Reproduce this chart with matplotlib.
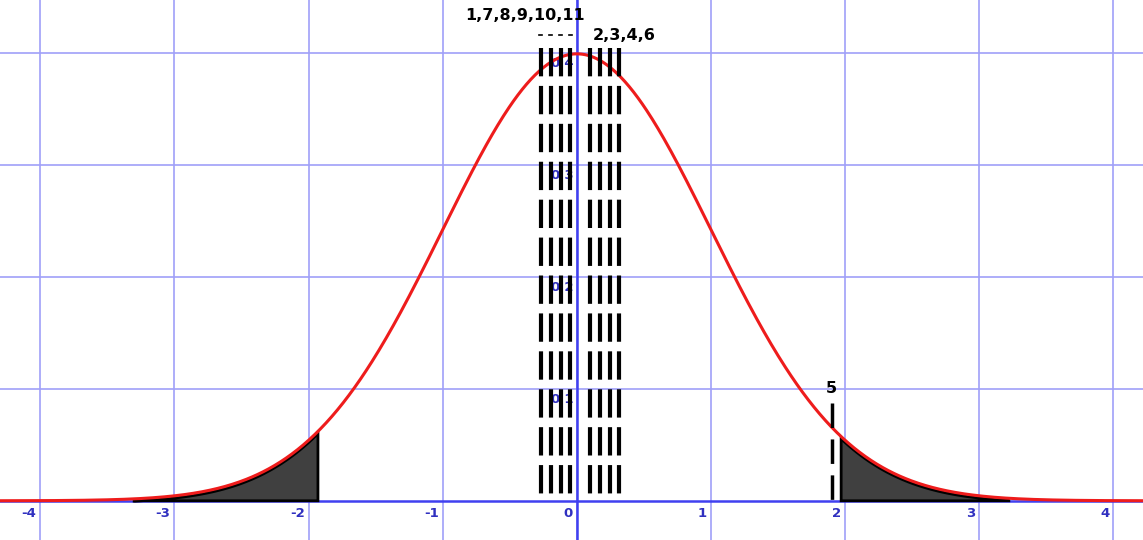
import numpy as np
import matplotlib.pyplot as plt

# positions of the dashed vertical markers
left_group = [-0.27, -0.195, -0.12, -0.05]
right_group = [0.097, 0.172, 0.246, 0.313]
line_tops = 0.404
marker5_x = 1.90
marker5_top = 0.087

left_tail = (-3.3, -1.93)
right_tail = (1.97, 3.22)

xticks = [-4, -3, -2, -1, 0, 1, 2, 3, 4]
yticks = [0.1, 0.2, 0.3, 0.4]

grid_col = '#a0a0f8'
axis_col = '#4040f0'
label_col = '#3030c0'


def pdf(x):
    return np.exp(-x**2 / 2) / np.sqrt(2 * np.pi)


fig = plt.figure(figsize=(11.43, 5.40), dpi=100)
ax = fig.add_axes([0, 0, 1, 1])
ax.set_xlim(-4.3, 4.22)
ax.set_ylim(-0.035, 0.447)
ax.axis('off')

# grid
for xv in xticks:
    ax.axvline(xv, color=grid_col, lw=1.2, zorder=0)
for yv in yticks:
    ax.axhline(yv, color=grid_col, lw=1.2, zorder=0)
ax.axvline(0, color=axis_col, lw=1.8, zorder=1)
ax.axhline(0, color=axis_col, lw=1.8, zorder=1)

# tick labels
for xv in xticks:
    ax.text(xv - 0.03, -0.011, str(xv), color=label_col, fontsize=9.5,
            fontweight='bold', ha='right', va='center', zorder=1)
for yv in yticks:
    ax.text(-0.02, yv - 0.004, f'{yv:.1f}', color=label_col, fontsize=9.5,
            fontweight='bold', ha='right', va='top', zorder=1)

# shaded tails
for a, b in (left_tail, right_tail):
    xs = np.linspace(a, b, 200)
    ys = pdf(xs) - 0.002
    px = np.concatenate([[a], xs, [b]])
    py = np.concatenate([[0], ys, [0]])
    ax.fill(px, py, facecolor='#404040', edgecolor='black', lw=2, zorder=3)

# normal curve
x = np.linspace(-4.3, 4.22, 800)
ax.plot(x, pdf(x), color='#ee1c1c', lw=2.2, zorder=4)

# dashed markers, drawn top-down so the pattern starts at the top
for xv in left_group + right_group:
    ax.plot([xv, xv], [line_tops, 0], color='black', lw=3,
            dashes=(6.8, 2.3), zorder=5)
ax.plot([marker5_x, marker5_x], [marker5_top, 0], color='black', lw=2.5,
        dashes=(7.05, 3.3), zorder=5)
for xv in left_group:
    ax.plot([xv - 0.012, xv + 0.012], [0.416, 0.416], color='black',
            lw=1.2, zorder=5)

# annotations
ax.text(-0.83, 0.433, '1,7,8,9,10,11', fontsize=11.5, fontweight='bold',
        ha='left', va='center', zorder=6)
ax.text(0.12, 0.415, '2,3,4,6', fontsize=11.5, fontweight='bold',
        ha='left', va='center', zorder=6)
ax.text(1.9, 0.1, '5', fontsize=11.5, fontweight='bold',
        ha='center', va='center', zorder=6)

fig.savefig('out.png', dpi=100)
